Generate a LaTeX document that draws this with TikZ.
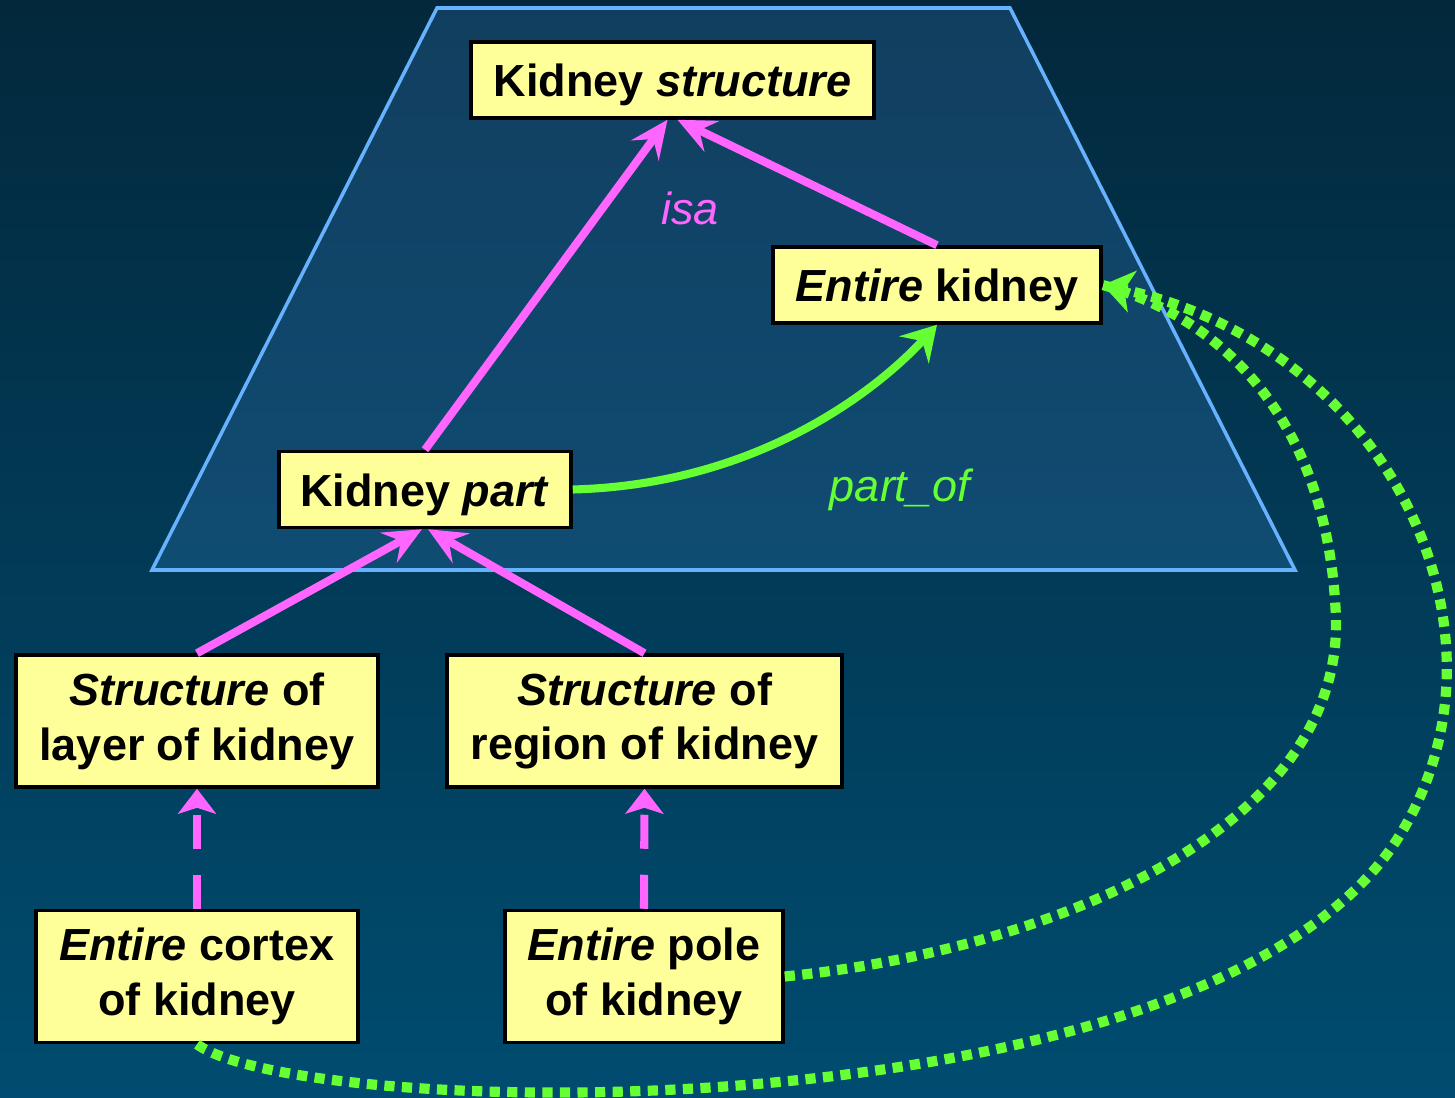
\documentclass[tikz,border=0pt]{standalone}
\usepackage{fontspec}
\setmainfont{Liberation Sans}
\usetikzlibrary{arrows.meta}

\definecolor{bgtop}{RGB}{3,40,60}
\definecolor{bgbot}{RGB}{0,76,112}
\definecolor{trapfill}{RGB}{60,130,200}
\definecolor{trapline}{RGB}{102,178,255}
\definecolor{boxyellow}{RGB}{255,255,153}
\definecolor{isapink}{RGB}{255,102,255}
\definecolor{partgreen}{RGB}{102,255,51}

\begin{document}
\begin{tikzpicture}[
  box/.style={draw=black, line width=1pt, fill=boxyellow, align=center,
    font=\fontsize{12.8}{15.6}\selectfont\bfseries, inner xsep=0.1cm},
  onebox/.style={box, minimum height=0.76cm, text height=0.36cm, text depth=0.02cm},
  twobox/.style={box, minimum height=1.32cm},
  isa/.style={draw=isapink, line width=2.3pt,
    -{Stealth[length=0.38cm, width=0.34cm, inset=0.14cm]}},
  isadash/.style={draw=isapink, line width=2.3pt, dash pattern=on 0.34cm off 0.26cm,
    -{Stealth[length=0.25cm, width=0.38cm, inset=0.06cm]}},
  partof/.style={draw=partgreen, line width=2.3pt,
    -{Stealth[length=0.34cm, width=0.4cm, inset=0.12cm]}},
  partdot/.style={draw=partgreen, line width=2.9pt, dash pattern=on 2.9pt off 2.1pt},
  rellabel/.style={font=\fontsize{12.8}{15.6}\selectfont\itshape}
]
% background
\shade[top color=bgtop, bottom color=bgbot] (0,0) rectangle (14.55,-10.97);
\useasboundingbox (0,0) rectangle (14.55,-10.97);

% upper level
\draw[trapline, line width=1pt, fill=trapfill, fill opacity=0.25]
  (4.37,-0.08) -- (10.10,-0.08) -- (12.95,-5.70) -- (1.52,-5.70) -- cycle;

% concepts
\node[onebox, minimum width=4.03cm] (kstruct) at (6.725,-0.80) {Kidney \textit{structure}};
\node[onebox, minimum width=3.28cm] (ekid) at (9.37,-2.85) {\textit{Entire} kidney};
\node[onebox, minimum width=2.92cm] (kpart) at (4.25,-4.895) {Kidney \textit{part}};
\node[twobox, minimum width=3.62cm] (layer) at (1.97,-7.21) {\textit{Structure} of\\layer of kidney};
\node[twobox, minimum width=3.95cm] (region) at (6.445,-7.21) {\textit{Structure} of\\region of kidney};
\node[twobox, minimum width=3.22cm] (cortex) at (1.97,-9.765) {\textit{Entire} cortex\\of kidney};
\node[twobox, minimum width=2.78cm] (pole) at (6.44,-9.765) {\textit{Entire} pole\\of kidney};

% isa links
\draw[isa] (kpart.north) -- ([xshift=-0.05cm]kstruct.south);
\draw[isa] (ekid.north) -- ([xshift=0.05cm]kstruct.south);
\draw[isa] (layer.north) -- ([xshift=-0.03cm]kpart.south);
\draw[isa] (region.north) -- ([xshift=0.03cm]kpart.south);
\draw[isadash] (cortex.north) -- (layer.south);
\draw[isadash] (pole.north) -- (region.south);
\node[rellabel, text=isapink] (isalbl) at (6.90,-2.08) {isa};

% part_of links
\draw[partof] (kpart.east) .. controls +(1.9,0.05) and +(-0.55,-0.6) .. (ekid.south);
\node[rellabel, text=partgreen] (partlbl) at (9.00,-4.90) {part\_of};
\draw[partdot] (pole.east) .. controls (10.5,-9.5) and (13.4,-8.3) .. (13.36,-6.2)
  .. controls (13.3,-4.3) and (12.3,-3.2) .. (ekid.east);
\draw[partdot, -{Stealth[length=0.3cm, width=0.42cm, inset=0.08cm]}]
  (cortex.south) .. controls (3.0,-11.2) and (11.8,-11.4) .. (13.9,-8.5)
  .. controls (15.3,-6.5) and (14.0,-3.5) .. (ekid.east);
\end{tikzpicture}
\end{document}
